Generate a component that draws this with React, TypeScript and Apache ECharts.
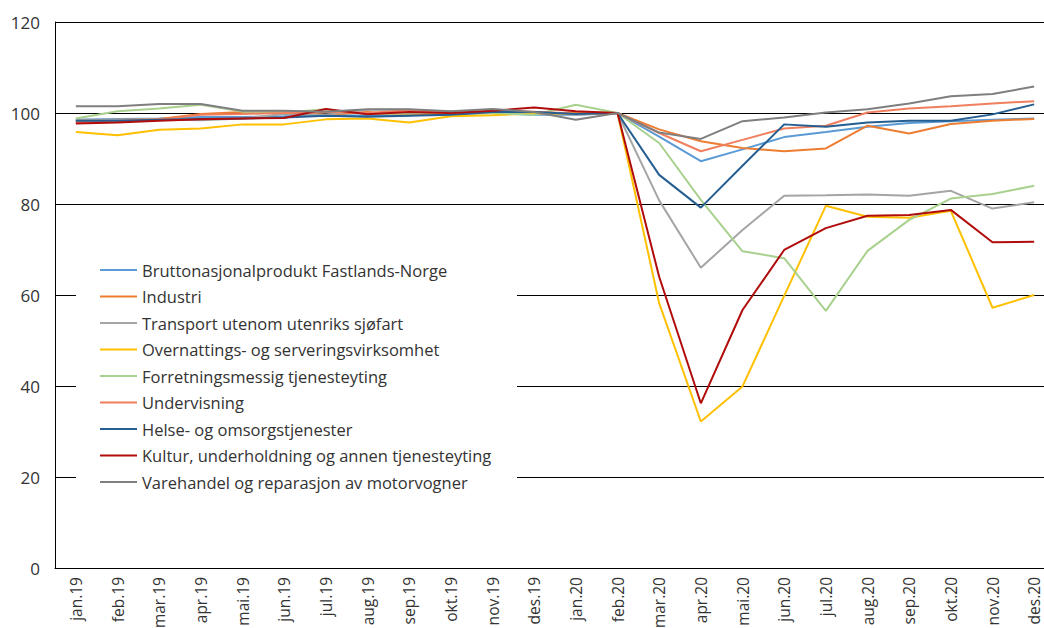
import React, { useEffect, useRef } from "react";
import * as echarts from "echarts";

const categories = [
  "jan.19", "feb.19", "mar.19", "apr.19", "mai.19", "jun.19", "jul.19", "aug.19", "sep.19", "okt.19", "nov.19", "des.19",
  "jan.20", "feb.20", "mar.20", "apr.20", "mai.20", "jun.20", "jul.20", "aug.20", "sep.20", "okt.20", "nov.20", "des.20",
];

const brutto = [98.5, 98.7, 98.8, 99.1, 99.1, 99.3, 99.6, 99.4, 99.5, 99.7, 100.0, 99.6, 99.6, 100, 94.8, 89.4, 92.0, 94.7, 95.8, 97.0, 97.8, 98.2, 98.5, 98.8];
const industri = [98.2, 98.5, 98.7, 99.8, 100.2, 100.3, 99.6, 100.2, 99.5, 100.0, 100.3, 99.8, 100.1, 100, 96.4, 93.8, 92.3, 91.6, 92.2, 97.2, 95.5, 97.6, 98.3, 98.7];
const transport = [98.5, 98.5, 98.6, 98.4, 98.8, 99.8, 99.6, 100.7, 100.7, 100.3, 100.5, 100.1, 99.6, 100, 80.8, 66.0, 74.3, 81.8, 81.9, 82.1, 81.8, 82.9, 79.0, 80.4];
const overnatting = [95.8, 95.1, 96.3, 96.6, 97.5, 97.5, 98.6, 98.8, 97.9, 99.3, 99.5, 99.9, 99.9, 100, 58.2, 32.2, 39.9, 59.8, 79.6, 77.2, 77.0, 78.5, 57.2, 60.0];
const forretning = [98.8, 100.4, 101.0, 101.8, 100.3, 100.1, 100.8, 99.8, 99.9, 100.3, 100.0, 99.6, 101.8, 100, 93.4, 80.9, 69.6, 68.1, 56.5, 69.7, 76.5, 81.2, 82.2, 84.0];
const undervisning = [97.9, 98.2, 98.6, 99.6, 99.8, 100.0, 100.3, 100.0, 100.6, 100.2, 100.4, 100.3, 99.9, 100, 95.6, 91.6, 94.1, 96.6, 97.2, 100.1, 101.0, 101.5, 102.1, 102.6];
const helse = [98.3, 98.3, 98.5, 98.7, 98.8, 99.0, 99.4, 99.2, 99.4, 99.6, 100.2, 100.2, 99.8, 100, 86.4, 79.2, 88.4, 97.5, 97.0, 97.9, 98.3, 98.3, 99.7, 101.9];
const kultur = [97.7, 97.9, 98.3, 98.6, 98.8, 98.9, 100.9, 99.7, 100.2, 100.0, 100.5, 101.2, 100.4, 100, 64.0, 36.2, 56.7, 69.9, 74.7, 77.4, 77.6, 78.7, 71.6, 71.7];
const varehandel = [101.5, 101.5, 102.0, 102.0, 100.5, 100.5, 100.3, 100.8, 100.8, 100.4, 100.9, 100.2, 98.5, 100, 95.7, 94.3, 98.2, 99.0, 100.1, 100.8, 102.1, 103.7, 104.2, 105.8];

const seriesNames = [
  "Bruttonasjonalprodukt Fastlands-Norge",
  "Industri",
  "Transport utenom utenriks sjøfart",
  "Overnattings- og serveringsvirksomhet",
  "Forretningsmessig tjenesteyting",
  "Undervisning",
  "Helse- og omsorgstjenester",
  "Kultur, underholdning og annen tjenesteyting",
  "Varehandel og reparasjon av motorvogner",
];
const seriesData = [brutto, industri, transport, overnatting, forretning, undervisning, helse, kultur, varehandel];
const seriesColors = ["#5B9BD5", "#ED7D31", "#A5A5A5", "#FFC000", "#A9D18E", "#F07F5E", "#255E91", "#B00C0C", "#7F7F7F"];

const yTicks = [0, 20, 40, 60, 80, 100, 120];

export default function App() {
  const ref = useRef<HTMLDivElement>(null);
  useEffect(() => {
    if (!ref.current) return;
    const chart = echarts.init(ref.current, null, { renderer: "svg" });
    const font = "'Open Sans', 'Noto Sans', sans-serif";
    chart.setOption({
      animation: false,
      textStyle: { fontFamily: font },
      grid: { left: 55, top: 22, width: 1000, height: 546, containLabel: false, outerBoundsMode: "none" },
      xAxis: {
        type: "category",
        data: categories,
        boundaryGap: true,
        axisLine: { lineStyle: { color: "#000", width: 1 } },
        axisTick: { show: false },
        axisLabel: { rotate: 90, fontSize: 15.5, color: "#333", margin: 9, fontFamily: font, interval: 0 },
        splitLine: { show: false },
      },
      yAxis: {
        type: "value",
        min: yTicks[0],
        max: yTicks[yTicks.length - 1],
        interval: 20,
        axisLine: { show: true, lineStyle: { color: "#000", width: 1 } },
        axisTick: { show: false },
        axisLabel: { fontSize: 17, color: "#333", margin: 15, fontFamily: font },
        splitLine: { show: true, lineStyle: { color: "#000", width: 1 } },
      },
      legend: {
        orient: "vertical",
        left: 100,
        top: 260,
        padding: 0,
        icon: "rect",
        itemWidth: 37,
        itemHeight: 2,
        itemGap: 6.5,
        textStyle: { fontSize: 16.5, color: "#333", fontFamily: font, lineHeight: 20 },
        data: seriesNames,
        selectedMode: false,
        z: 5,
      },
      graphic: [
        {
          type: "rect",
          z: 3,
          shape: { x: 76, y: 250, width: 441, height: 247 },
          style: { fill: "#fff" },
          silent: true,
        },
      ],
      series: seriesNames.map((name, i) => ({
        name,
        type: "line",
        data: seriesData[i],
        symbol: "none",
        showSymbol: false,
        lineStyle: { width: 2, color: seriesColors[i] },
        itemStyle: { color: seriesColors[i] },
        z: 2,
      })),
    });
    return () => chart.dispose();
  }, []);
  return <div ref={ref} style={{ position: "absolute", left: 0, top: 0, width: 1044, height: 628 }} />;
}
